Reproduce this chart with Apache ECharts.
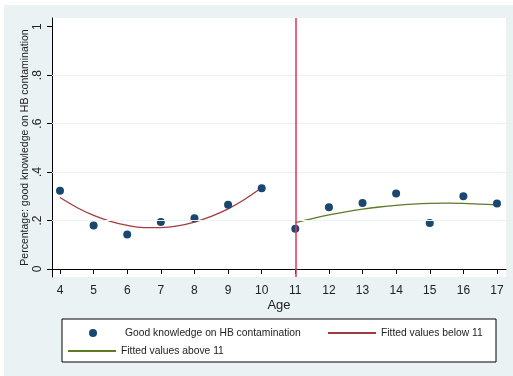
<!DOCTYPE html>
<html>
<head>
<meta charset="utf-8">
<script src="https://cdn.jsdelivr.net/npm/echarts@6/dist/echarts.min.js"></script>
<style>
  html, body { margin: 0; padding: 0; background: #fff; }
  #chart { position: absolute; left: 4px; top: 5px; width: 509px; height: 371px; }
</style>
</head>
<body>
<div id="chart"></div>
<script>
// ages and observed shares
const ages = [4, 5, 6, 7, 8, 9, 10, 11, 12, 13, 14, 15, 16, 17];
const knowledge = [0.323, 0.180, 0.142, 0.194, 0.210, 0.265, 0.333, 0.166, 0.255, 0.272, 0.312, 0.190, 0.300, 0.270];

// fitted curves (every half year)
const belowAges = [4, 4.5, 5, 5.5, 6, 6.5, 7, 7.5, 8, 8.5, 9, 9.5, 10];
const fitBelow = [0.295, 0.254, 0.221, 0.197, 0.180, 0.171, 0.171, 0.178, 0.194, 0.217, 0.248, 0.288, 0.335];
const aboveAges = [11, 11.5, 12, 12.5, 13, 13.5, 14, 14.5, 15, 15.5, 16, 16.5, 17];
const fitAbove = [0.191, 0.208, 0.223, 0.236, 0.247, 0.256, 0.263, 0.268, 0.271, 0.272, 0.271, 0.268, 0.265];

const yTicks = [0, 0.2, 0.4, 0.6, 0.8, 1];
const gridLines = [0.2, 0.4, 0.6, 0.8];
const cutoff = 11;

const names = {
  dots: 'Good knowledge on HB contamination',
  below: 'Fitted values below 11',
  above: 'Fitted values above 11'
};

const colors = {
  dots: '#1a476f',
  below: '#a23a42',
  above: '#5d7a27',
  cutoff: '#d8365e'
};

const chart = echarts.init(document.getElementById('chart'));

const legendText = { fontFamily: 'Liberation Sans', fontSize: 10.3, color: '#222' };

const lineLegend = (name, left, top) => ({
  data: [{ name: name, icon: 'rect' }],
  left: left,
  top: top,
  padding: 0,
  itemWidth: 48,
  itemHeight: 2,
  itemGap: 5,
  selectedMode: false,
  textStyle: legendText
});

chart.setOption({
  backgroundColor: '#eaf2f3',
  animation: false,
  textStyle: { fontFamily: 'Liberation Sans' },
  graphic: [{
    type: 'rect',
    shape: { x: 58, y: 314, width: 434, height: 43 },
    style: { fill: '#fff', stroke: '#000', lineWidth: 1 },
    z: -1
  }],
  legend: [
    {
      data: [{ name: names.dots, icon: 'circle' }],
      left: 85,
      top: 323,
      padding: 0,
      itemWidth: 8,
      itemHeight: 8,
      selectedMode: false,
      textStyle: Object.assign({}, legendText, { padding: [0, 0, 0, 23] })
    },
    lineLegend(names.below, 324, 323),
    lineLegend(names.above, 64, 341)
  ],
  grid: { left: 48, right: 7, top: 13, bottom: 99, show: true, backgroundColor: '#fff', borderWidth: 0 },
  xAxis: {
    type: 'value',
    min: 3.762,
    max: 17.268,
    name: 'Age',
    nameLocation: 'middle',
    nameGap: 22,
    nameMoveOverlap: false,
    nameTextStyle: { fontSize: 13, color: '#222' },
    axisLine: { show: true, lineStyle: { color: '#000', width: 1 } },
    axisTick: { show: true, length: 5, lineStyle: { color: '#000' }, customValues: ages },
    axisLabel: { customValues: ages, margin: 8, fontSize: 12, color: '#222' },
    splitLine: { show: false }
  },
  yAxis: {
    type: 'value',
    min: -0.033,
    max: 1.036,
    name: 'Percentage: good knowledge on HB contamination',
    nameLocation: 'middle',
    nameGap: 21,
    nameMoveOverlap: false,
    nameTextStyle: { fontSize: 10.5, color: '#222' },
    axisLine: { show: true, lineStyle: { color: '#000', width: 1 } },
    axisTick: { show: true, length: 5, lineStyle: { color: '#000' }, customValues: yTicks },
    axisLabel: {
      customValues: yTicks,
      rotate: 90,
      margin: 8,
      fontSize: 12,
      color: '#222',
      formatter: v => (v === 0 || v === 1) ? String(v) : String(v).replace('0.', '.')
    },
    splitLine: { show: false }
  },
  series: [
    {
      name: 'grid',
      type: 'line',
      data: [],
      z: 1,
      markLine: {
        silent: true,
        symbol: 'none',
        label: { show: false },
        lineStyle: { color: '#eaf2f3', width: 1, type: 'solid' },
        data: gridLines.map(v => ({ yAxis: v }))
      }
    },
    {
      name: names.below,
      type: 'line',
      data: belowAges.map((a, i) => [a, fitBelow[i]]),
      smooth: 0.3,
      showSymbol: false,
      symbol: 'none',
      z: 3,
      itemStyle: { color: colors.below },
      lineStyle: { color: colors.below, width: 1.3 }
    },
    {
      name: names.above,
      type: 'line',
      data: aboveAges.map((a, i) => [a, fitAbove[i]]),
      smooth: 0.3,
      showSymbol: false,
      symbol: 'none',
      z: 3,
      itemStyle: { color: colors.above },
      lineStyle: { color: colors.above, width: 1.3 }
    },
    {
      name: names.dots,
      type: 'scatter',
      data: ages.map((a, i) => [a, knowledge[i]]),
      symbol: 'circle',
      symbolSize: 8,
      z: 4,
      itemStyle: { color: colors.dots, opacity: 1 },
      markLine: {
        silent: true,
        symbol: 'none',
        label: { show: false },
        lineStyle: { color: colors.cutoff, width: 1.5, type: 'solid' },
        data: [{ xAxis: cutoff }]
      }
    }
  ]
});
</script>
</body>
</html>
